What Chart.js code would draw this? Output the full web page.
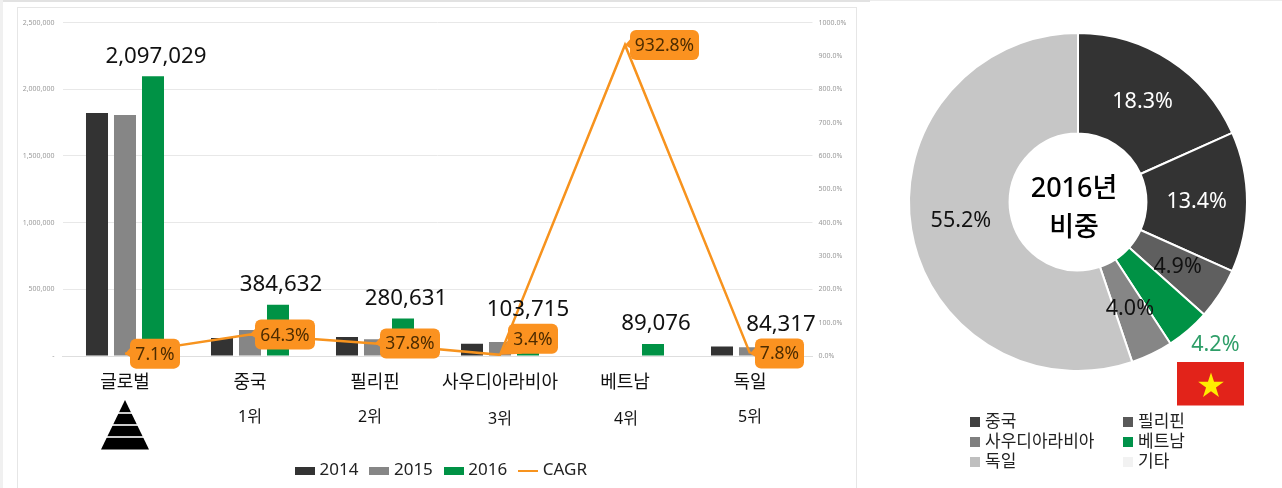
<!DOCTYPE html>
<html lang="ko"><head><meta charset="utf-8">
<script src="https://cdn.jsdelivr.net/npm/chart.js@4/dist/chart.umd.min.js"></script>
<style>
html,body{margin:0;padding:0;background:#fff;overflow:hidden;width:1282px;height:488px}
#topbar{position:absolute;left:0;top:0;width:1282px;height:1px;background:#ececec}
#topbar2{position:absolute;left:0;top:0;width:870px;height:2px;background:#e2e2e2}
#leftbar{position:absolute;left:0;top:0;width:3px;height:488px;background:#f0f0f0}
#card{position:absolute;left:17px;top:7px;width:840px;height:490px;border:1px solid #e6e6e6;box-sizing:border-box}
#c1{position:absolute;left:0;top:0}
#c2{position:absolute;left:876px;top:0}
</style></head><body>
<div id="topbar"></div><div id="topbar2"></div><div id="leftbar"></div><div id="card"></div>
<canvas id="c1" width="886" height="489"></canvas>
<canvas id="c2" width="404" height="488"></canvas>
<script>
const categories = ['글로벌','중국','필리핀','사우디아라비아','베트남','독일'];
const ranks = ['', '1위','2위','3위','4위','5위'];
const values2014 = [1822000,135000,142000,92000,null,72000];
const values2015 = [1806000,195000,125000,105000,null,66000];
const values2016 = [2097029,384632,280631,103715,89076,84317];
const cagr = [7.1,64.3,37.8,3.4,932.8,7.8];
const shareLabels = ['중국','필리핀','사우디아라비아','베트남','독일','기타'];
const shareValues = [18.3,13.4,4.9,4.2,4.0,55.2];

const KFONT = '"Noto Sans","Noto Sans CJK KR",sans-serif';
const ORANGE = '#f7931e';

function swatch(w,h,color){
  const c=document.createElement('canvas');c.width=w;c.height=h;
  const x=c.getContext('2d');x.fillStyle=color;x.fillRect(0,0,w,h);return c;
}

const comboDecor = {
  id:'comboDecor',
  afterDatasetsDraw(chart){
    const ctx=chart.ctx;
    const barMeta=chart.getDatasetMeta(2), lineMeta=chart.getDatasetMeta(3);
    ctx.save();
    // value labels over the 2016 bars
    const extraLift=[0,0,0,13,0,0], labelDx=[3,3,3,0,3,3];
    ctx.font='22.3px '+KFONT;ctx.fillStyle='#111';ctx.textAlign='center';ctx.textBaseline='middle';
    values2016.forEach((v,i)=>{
      const b=barMeta.data[i];
      ctx.fillText(v.toLocaleString('en-US'),b.x+labelDx[i],b.y-20-extraLift[i]);
    });
    // CAGR callouts
    const widths=[50,60,60,50,69,49], lifts=[0,0,0,16,0,0], gaps=[5,5,5,8,5,5];
    ctx.font='17.5px '+KFONT;
    cagr.forEach((v,i)=>{
      const p=lineMeta.data[i], w=widths[i], h=30, l=p.x+gaps[i], t=p.y-h/2-lifts[i], cy=t+h/2;
      ctx.fillStyle='#fb9220';
      ctx.beginPath();ctx.roundRect(l,t,w,h,6);ctx.fill();
      ctx.beginPath();ctx.moveTo(p.x,p.y);
      if(lifts[i]){ctx.lineTo(l,t+h-14);ctx.lineTo(l+14,t+h);}
      else{ctx.lineTo(l+3,p.y-9);ctx.lineTo(l+3,p.y+5);}
      ctx.closePath();ctx.fill();
      ctx.fillStyle='#4d2c00';
      ctx.fillText(v.toFixed(1)+'%',l+w/2,cy+1);
    });
    // rank captions
    const xAxis=chart.scales.x;
    const rankDx=[0,0,-5,0,1,0], rankY=[0,417,417,419,419,417];
    ctx.font='16px '+KFONT;ctx.fillStyle='#111';
    ranks.forEach((r,i)=>{ if(r) ctx.fillText(r,xAxis.getPixelForValue(i)+rankDx[i],rankY[i]); });
    // pyramid icon under the global group
    const cx=xAxis.getPixelForValue(0);
    ctx.fillStyle='#000';
    ctx.beginPath();ctx.moveTo(cx,400);ctx.lineTo(cx+24,449.5);ctx.lineTo(cx-24,449.5);ctx.closePath();ctx.fill();
    ctx.fillStyle='#fff';
    [413,425,437].forEach(y=>ctx.fillRect(cx-30,y-.8,60,1.6));
    ctx.restore();
  }
};

new Chart(document.getElementById('c1'),{
  type:'bar',
  data:{labels:categories,datasets:[
    {label:'2014',data:values2014,backgroundColor:'#333333',yAxisID:'y',order:2},
    {label:'2015',data:values2015,backgroundColor:'#868686',yAxisID:'y',order:2},
    {label:'2016',data:values2016,backgroundColor:'#009245',yAxisID:'y',order:2},
    {type:'line',label:'CAGR',data:cagr,borderColor:ORANGE,backgroundColor:ORANGE,borderWidth:2.5,pointRadius:0,tension:0,yAxisID:'y1',order:1}
  ]},
  options:{
    responsive:false,animation:false,events:[],
    layout:{padding:{top:22.5,left:0,right:0,bottom:0}},
    datasets:{bar:{categoryPercentage:0.672,barPercentage:0.786}},
    plugins:{
      tooltip:{enabled:false},
      legend:{position:'bottom',labels:{
        usePointStyle:true,pointStyleWidth:12,padding:15,color:'#222',
        font:{size:17,family:KFONT},boxHeight:7,
        generateLabels(chart){
          const cols=['#333333','#868686','#009245',ORANGE];
          return chart.data.datasets.map((d,i)=>({
            text:d.label,datasetIndex:i,fontColor:'#222',lineWidth:0,
            fillStyle:cols[i],strokeStyle:cols[i],
            pointStyle:i<3?swatch(20,8,cols[i]):swatch(20,2,cols[i])
          }));
        }
      }}
    },
    scales:{
      x:{
        grid:{display:false,drawTicks:false},
        border:{color:'#dedede'},
        ticks:{color:'#111',font:{size:18,family:KFONT},padding:16,autoSkip:false,maxRotation:0},
        afterFit(s){s.height=91;}
      },
      y:{
        min:0,max:2500000,
        grid:{color:'#e8e8e8',drawTicks:false},
        border:{display:false},
        ticks:{stepSize:500000,color:'#999999',font:{size:7,family:KFONT},padding:8,
          callback:v=>v===0?'-':v.toLocaleString('en-US')},
        afterFit(s){s.width=62.5;}
      },
      y1:{
        position:'right',min:0,max:1000,
        grid:{display:false,drawTicks:false},
        border:{display:false},
        ticks:{stepSize:100,color:'#999999',font:{size:7,family:KFONT},padding:6,
          callback:v=>v.toFixed(1)+'%'},
        afterFit(s){s.width=73.5;}
      }
    }
  },
  plugins:[comboDecor]
});

const donutDecor = {
  id:'donutDecor',
  afterDatasetsDraw(chart){
    const ctx=chart.ctx, meta=chart.getDatasetMeta(0);
    const cx=meta.data[0].x, cy=meta.data[0].y;
    ctx.save();
    ctx.textAlign='center';ctx.textBaseline='middle';
    // slice labels
    const colors=['#fff','#fff','#111','#2e9e68','#111','#111'];
    ctx.font='21.5px '+KFONT;
    shareValues.forEach((v,i)=>{
      const a=meta.data[i];
      const mid=(a.startAngle+a.endAngle)/2;
      const r=i===3?197:(a.innerRadius+a.outerRadius)/2;
      const dx=i===3?9:0, dy=i===3?-7:0;
      ctx.fillStyle=colors[i];
      ctx.fillText(v.toFixed(1)+'%',cx+Math.cos(mid)*r+dx,cy+Math.sin(mid)*r+dy);
    });
    // centre caption
    ctx.fillStyle='#000';ctx.font='500 27px '+KFONT;
    ctx.fillText('2016년',cx-4,cy-13);
    ctx.fillText('비중',cx-4,cy+26);
    // flag
    ctx.fillStyle='#e2231a';ctx.fillRect(cx+99,362,67,43.5);
    ctx.fillStyle='#ffed00';
    ctx.beginPath();
    for(let k=0;k<10;k++){
      const R=k%2?5.2:13.5, t=-Math.PI/2+k*Math.PI/5;
      const px=cx+133+Math.cos(t)*R, py=386+Math.sin(t)*R;
      k?ctx.lineTo(px,py):ctx.moveTo(px,py);
    }
    ctx.closePath();ctx.fill();
    // legend
    const legendColors=['#404040','#595959','#7f7f7f','#00924a','#bfbfbf','#f2f2f2'];
    ctx.textAlign='left';ctx.font='17px '+KFONT;
    shareLabels.forEach((t,i)=>{
      const col=i%2,row=Math.floor(i/2);
      const x=94+col*153,y=422+row*20;
      ctx.fillStyle=legendColors[i];ctx.fillRect(x,y-5,10,10);
      ctx.fillStyle='#222';ctx.fillText(t,x+15,y);
    });
    ctx.restore();
  }
};

new Chart(document.getElementById('c2'),{
  type:'doughnut',
  data:{labels:shareLabels,datasets:[{
    data:shareValues,
    backgroundColor:['#333333','#333333','#5f5f5f','#009245','#868686','#c6c6c6'],
    borderColor:'#fff',borderWidth:2
  }]},
  options:{
    responsive:false,animation:false,events:[],cutout:'40.5%',
    layout:{padding:{top:32,bottom:116,left:32,right:32}},
    plugins:{legend:{display:false},tooltip:{enabled:false}}
  },
  plugins:[donutDecor]
});
</script>
</body></html>
